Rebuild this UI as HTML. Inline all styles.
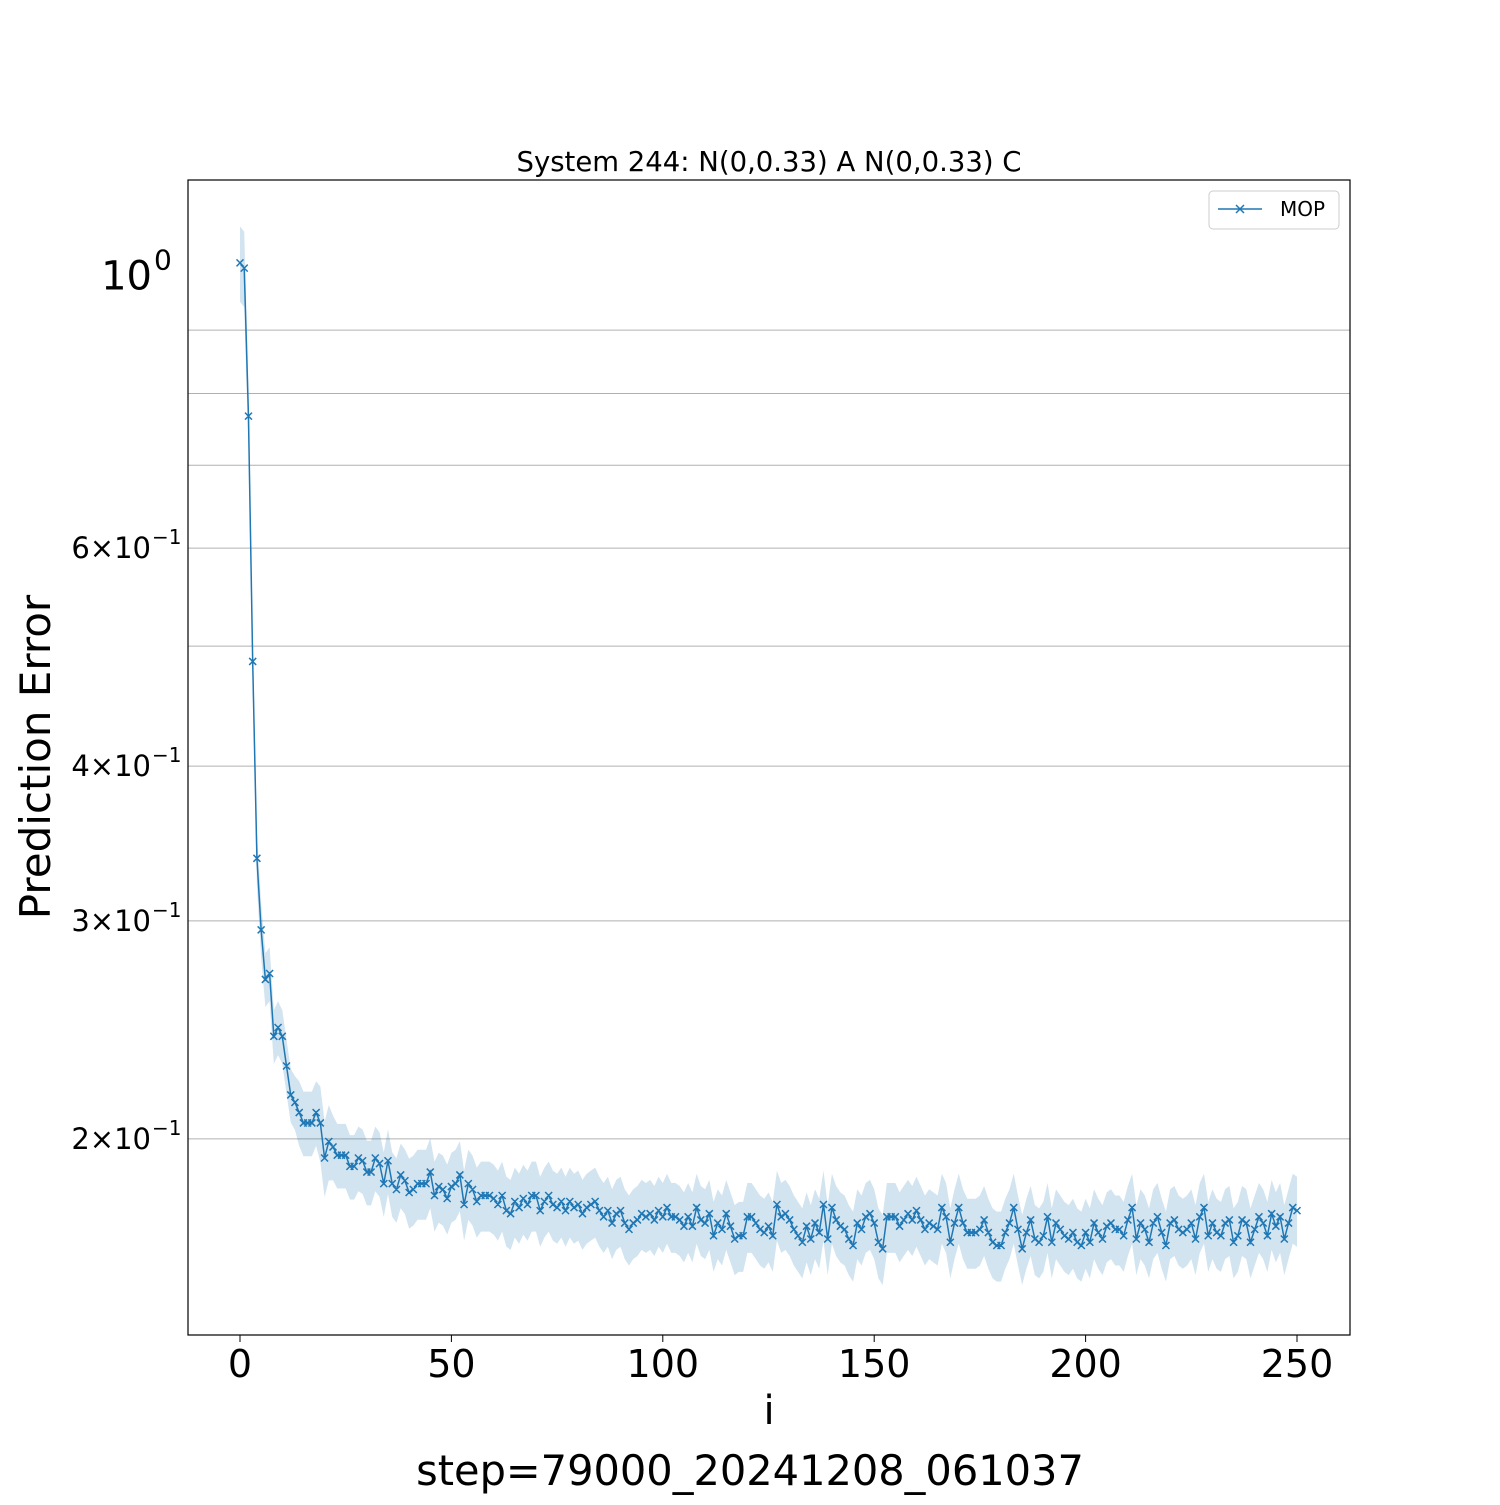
<!DOCTYPE html>
<html><head><meta charset="utf-8"><style>
body{margin:0;background:#fff}
svg text{font-family:"DejaVu Sans","Liberation Sans",sans-serif}
</style></head><body>
<svg id="chart" width="1500" height="1500" viewBox="0 0 1500 1500" xmlns="http://www.w3.org/2000/svg">
<rect width="1500" height="1500" fill="#fff"/>
<g id="grid"></g>
<g id="band"></g>
<g id="series"></g>
<rect x="188" y="180" width="1162" height="1155" fill="none" stroke="#000" stroke-width="1.2"/>
<g id="xticks"></g>
<g id="yticks"></g>
<text x="769" y="171" font-size="27.5" text-anchor="middle">System 244: N(0,0.33) A N(0,0.33) C</text>
<text x="769" y="1424" font-size="40" text-anchor="middle">i</text>
<text x="750" y="1485" font-size="41.5" text-anchor="middle">step=79000_20241208_061037</text>
<text transform="translate(50,757) rotate(-90)" font-size="42" text-anchor="middle">Prediction Error</text>
<g>
<rect x="1209" y="191" width="130" height="38" rx="4" fill="#fff" stroke="#ccc"/>
<line x1="1218" y1="209" x2="1262" y2="209" stroke="#1f77b4" stroke-width="1.5"/>
<path d="M1236,205L1244,213M1236,213L1244,205" stroke="#1f77b4" stroke-width="1.5"/>
<text x="1280" y="216" font-size="20">MOP</text>
</g>
</svg>
<script>
const values=[1.02,1.01,0.767,0.486,0.337,0.295,0.269,0.272,0.242,0.246,0.242,0.229,0.217,0.214,0.210,0.206,0.206,0.206,0.210,0.206,0.193,0.199,0.197,0.194,0.194,0.194,0.190,0.190,0.193,0.192,0.188,0.188,0.193,0.191,0.184,0.192,0.184,0.182,0.187,0.185,0.181,0.182,0.184,0.184,0.184,0.188,0.180,0.183,0.182,0.179,0.183,0.184,0.187,0.177,0.184,0.182,0.178,0.180,0.180,0.180,0.179,0.177,0.180,0.175,0.174,
0.178,0.176,0.179,0.177,0.180,0.180,0.175,0.178,0.180,0.177,0.176,0.178,0.175,0.178,0.176,0.177,0.174,0.176,0.177,0.178,0.175,0.173,0.175,0.171,0.174,0.175,0.171,0.169,0.171,0.172,0.174,0.173,0.174,0.172,0.175,0.173,0.176,0.173,0.173,0.172,0.170,0.173,0.170,0.176,0.172,0.171,0.174,0.167,0.171,0.169,0.174,0.170,0.166,0.167,0.167,0.173,0.173,0.171,0.169,0.168,0.170,0.167,0.177,0.173,0.174,0.172,0.169,0.167,0.165,0.170,0.166,0.171,0.168,0.177,0.166,0.176,0.172,0.170,0.169,0.166,0.164,0.171,0.169,0.173,0.174,0.171,0.165,0.163,0.173,0.173,0.173,0.170,0.172,0.174,0.172,0.175,0.172,0.169,0.171,0.170,0.169,0.176,0.173,0.165,0.171,0.176,0.171,0.168,0.168,0.168,0.169,0.172,0.168,0.165,0.164,0.164,0.168,0.171,0.176,0.169,0.163,0.168,0.172,0.166,0.165,0.167,0.173,0.165,0.171,0.169,0.167,0.166,0.168,0.165,0.164,0.168,0.165,0.171,0.168,0.166,0.170,0.171,0.169,0.169,0.167,0.172,0.176,0.166,0.171,0.169,0.165,0.171,0.173,0.168,0.164,0.171,0.172,0.169,0.168,0.169,0.171,0.166,0.173,0.176,0.167,0.171,0.168,0.167,0.171,0.172,0.165,0.167,0.172,0.171,0.165,0.169,0.173,0.171,0.167,0.174,0.170,0.173,0.166,0.171,0.176,0.175];
const errFrac=[0.07,0.07,0.06,0.05,0.05,0.05,0.05,0.05,0.05,0.05,0.05,0.05,0.05,0.05,0.06,0.06,0.06,0.06,0.06,0.07,0.07,0.07,0.06,0.06,0.06,0.06,0.06,0.06,0.06,0.06,0.06,0.06,0.06,0.06,0.06,0.06,0.06,0.06,0.06,0.06];
const xTicks=[0,50,100,150,200,250];
const yMinor=[0.2,0.3,0.4,0.5,0.6,0.7,0.8,0.9];
const yLabels=[[0.2,"2"],[0.3,"3"],[0.4,"4"],[0.6,"6"]];
const X=i=>240+i*(1057/250);
const Y=v=>273.5-Math.log10(v)*1238;
const NS="http://www.w3.org/2000/svg";
function mk(t,a,p){const e=document.createElementNS(NS,t);for(const k in a)e.setAttribute(k,a[k]);p.appendChild(e);return e;}
const grid=document.getElementById('grid');
yMinor.forEach(v=>{const l=mk('line',{x1:188,x2:1350,y1:Y(v),y2:Y(v),stroke:'#b0b0b0','stroke-width':1},grid);

});
const band=document.getElementById('band');
let up=[],lo=[];
values.forEach((v,i)=>{const e=i<errFrac.length?errFrac[i]:0.065;up.push(X(i)+','+Y(v*(1+e)));lo.unshift(X(i)+','+Y(v*(1-e)));});
const bp=mk('polygon',{points:up.concat(lo).join(' '),fill:'#1f77b4','fill-opacity':0.2},band);


const ser=document.getElementById('series');
const pl=mk('polyline',{points:values.map((v,i)=>X(i)+','+Y(v)).join(' '),fill:'none',stroke:'#1f77b4','stroke-width':1.5},ser);


let d='';values.forEach((v,i)=>{const x=X(i),y=Y(v);d+=`M${x-3.5},${y-3.5}L${x+3.5},${y+3.5}M${x-3.5},${y+3.5}L${x+3.5},${y-3.5}`;});
const mp=mk('path',{d:d,stroke:'#1f77b4','stroke-width':1.5,fill:'none'},ser);


const xt=document.getElementById('xticks');
xTicks.forEach(t=>{mk('line',{x1:X(t),x2:X(t),y1:1335,y2:1342,stroke:'#000'},xt);
const tx=mk('text',{x:X(t),y:1377,'font-size':38,'text-anchor':'middle'},xt);tx.textContent=t;

});
const yt=document.getElementById('yticks');
const t0=mk('text',{x:152,y:Y(1)+16,'font-size':40,'text-anchor':'end'},yt);t0.textContent='10';


const s0=mk('text',{x:154,y:Y(1)-4,'font-size':28},yt);s0.textContent='0';
yLabels.forEach(([v,m])=>{
const tx=mk('text',{x:151,y:Y(v)+10,'font-size':29,'text-anchor':'end'},yt);tx.textContent=m+'\u00d710';


const sp=mk('text',{x:152,y:Y(v)-4,'font-size':20},yt);sp.textContent='\u22121';});
</script>
</body></html>
